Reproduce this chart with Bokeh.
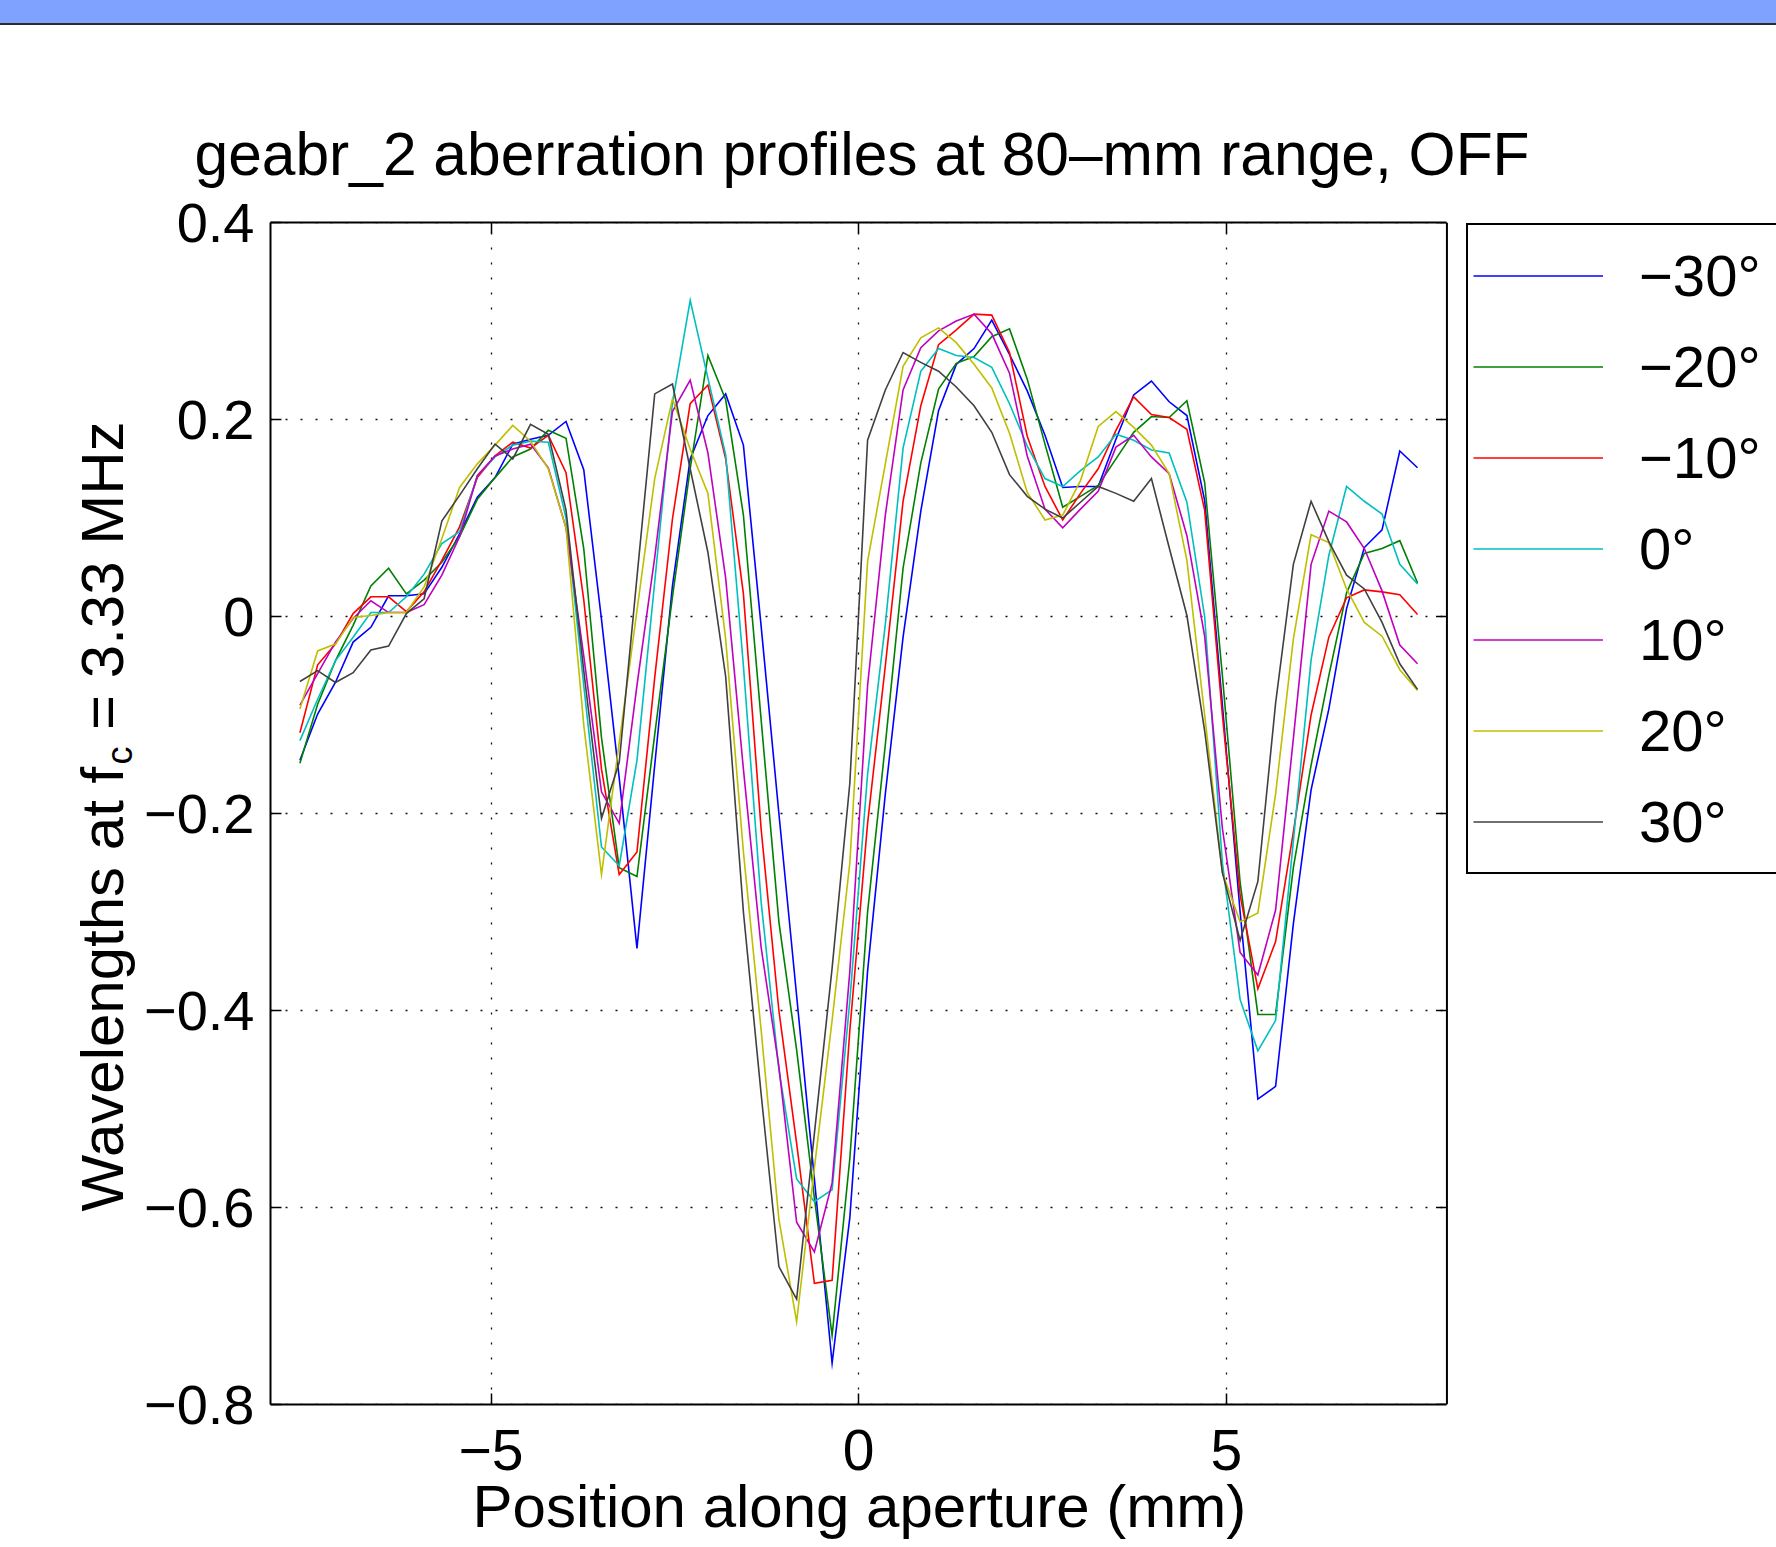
import numpy as np
from bokeh.plotting import figure
from bokeh.models import Range1d, FixedTicker, LinearAxis, Div, Legend, LegendItem, Title
from bokeh.layouts import row, column
from bokeh.core.properties import value
from bokeh.embed import file_html
from bokeh.resources import INLINE

# ---------------- data ----------------
positions = np.linspace(-7.6, 7.6, 64)   # element positions along aperture (mm)

angle_labels = ["−30°", "−20°", "−10°", "0°", "10°", "20°", "30°"]

prof_m30 = [-0.146, -0.099, -0.067, -0.026, -0.011, 0.021, 0.021, 0.023, 0.050, 0.084,
            0.121, 0.141, 0.175, 0.180, 0.184, 0.198, 0.149, -0.003, -0.164, -0.337,
            -0.151, 0.031, 0.160, 0.204, 0.226, 0.174, -0.010, -0.200, -0.385, -0.571,
            -0.758, -0.610, -0.360, -0.180, -0.021, 0.107, 0.209, 0.256, 0.272, 0.301,
            0.266, 0.229, 0.184, 0.131, 0.132, 0.132, 0.180, 0.225, 0.239, 0.218,
            0.204, 0.118, -0.090, -0.300, -0.490, -0.477, -0.312, -0.176, -0.094, 0.008,
            0.070, 0.088, 0.168, 0.151]
prof_m20 = [-0.149, -0.089, -0.045, -0.009, 0.031, 0.049, 0.023, 0.037, 0.055, 0.081,
            0.119, 0.141, 0.162, 0.170, 0.189, 0.181, 0.069, -0.123, -0.255, -0.264,
            -0.120, 0.020, 0.150, 0.265, 0.220, 0.103, -0.105, -0.310, -0.440, -0.590,
            -0.730, -0.550, -0.300, -0.130, 0.049, 0.156, 0.231, 0.257, 0.264, 0.284,
            0.292, 0.241, 0.175, 0.111, 0.122, 0.133, 0.160, 0.187, 0.203, 0.202,
            0.219, 0.136, -0.060, -0.270, -0.404, -0.404, -0.255, -0.151, -0.060, 0.024,
            0.064, 0.069, 0.077, 0.034]
prof_m10 = [-0.118, -0.049, -0.028, 0.003, 0.020, 0.020, 0.005, 0.025, 0.057, 0.091,
            0.141, 0.163, 0.177, 0.171, 0.184, 0.146, 0.017, -0.155, -0.262, -0.239,
            -0.062, 0.099, 0.216, 0.235, 0.160, 0.023, -0.216, -0.400, -0.535, -0.677,
            -0.674, -0.420, -0.210, -0.050, 0.117, 0.214, 0.276, 0.291, 0.307, 0.306,
            0.268, 0.183, 0.132, 0.098, 0.125, 0.150, 0.189, 0.223, 0.205, 0.202,
            0.190, 0.108, -0.100, -0.283, -0.378, -0.330, -0.219, -0.100, -0.021, 0.019,
            0.027, 0.025, 0.022, 0.002]
prof_0 = [-0.126, -0.084, -0.045, -0.021, 0.004, 0.004, 0.020, 0.043, 0.074, 0.086,
          0.143, 0.162, 0.174, 0.178, 0.177, 0.100, -0.070, -0.234, -0.253, -0.146,
          0.035, 0.217, 0.321, 0.242, 0.164, -0.050, -0.290, -0.460, -0.571, -0.594,
          -0.582, -0.390, -0.160, -0.008, 0.171, 0.249, 0.272, 0.265, 0.263, 0.253,
          0.216, 0.173, 0.140, 0.132, 0.148, 0.162, 0.185, 0.179, 0.169, 0.166,
          0.116, 0.000, -0.250, -0.389, -0.441, -0.410, -0.228, -0.044, 0.062, 0.132,
          0.117, 0.104, 0.053, 0.033]
prof_p10 = [-0.090, -0.058, -0.026, -0.002, 0.016, 0.004, 0.004, 0.012, 0.042, 0.081,
            0.143, 0.163, 0.170, 0.175, 0.151, 0.090, -0.040, -0.178, -0.210, -0.070,
            0.060, 0.208, 0.240, 0.166, 0.039, -0.155, -0.336, -0.457, -0.615, -0.645,
            -0.575, -0.360, -0.070, 0.103, 0.230, 0.273, 0.290, 0.300, 0.307, 0.287,
            0.247, 0.163, 0.109, 0.090, 0.109, 0.127, 0.172, 0.184, 0.162, 0.145,
            0.082, -0.020, -0.215, -0.341, -0.364, -0.298, -0.124, 0.053, 0.107, 0.096,
            0.069, 0.026, -0.029, -0.048]
prof_p20 = [-0.094, -0.035, -0.028, -0.001, 0.001, 0.004, 0.004, 0.030, 0.079, 0.131,
            0.155, 0.174, 0.194, 0.178, 0.150, 0.090, -0.110, -0.262, -0.128, 0.006,
            0.140, 0.221, 0.170, 0.125, -0.023, -0.239, -0.420, -0.612, -0.716, -0.560,
            -0.410, -0.250, 0.056, 0.155, 0.254, 0.283, 0.293, 0.278, 0.256, 0.232,
            0.186, 0.126, 0.098, 0.103, 0.138, 0.193, 0.208, 0.192, 0.174, 0.145,
            0.057, -0.100, -0.260, -0.310, -0.301, -0.180, -0.023, 0.083, 0.075, 0.028,
            -0.006, -0.020, -0.054, -0.075]
prof_p30 = [-0.066, -0.055, -0.067, -0.057, -0.034, -0.030, 0.003, 0.018, 0.097, 0.123,
            0.150, 0.175, 0.160, 0.195, 0.185, 0.108, -0.055, -0.205, -0.148, 0.040,
            0.226, 0.236, 0.150, 0.065, -0.061, -0.300, -0.485, -0.660, -0.693, -0.525,
            -0.357, -0.169, 0.179, 0.230, 0.268, 0.258, 0.249, 0.233, 0.214, 0.187,
            0.144, 0.122, 0.109, 0.100, 0.116, 0.132, 0.125, 0.117, 0.140, 0.070,
            0.001, -0.116, -0.260, -0.329, -0.269, -0.088, 0.053, 0.117, 0.076, 0.042,
            0.028, -0.006, -0.048, -0.074]

profiles = [prof_m30, prof_m20, prof_m10, prof_0, prof_p10, prof_p20, prof_p30]

x_ticks = [-5, 0, 5]
x_tick_labels = ["−5", "0", "5"]
y_ticks = [-0.8, -0.6, -0.4, -0.2, 0.0, 0.2, 0.4]
y_tick_labels = ["−0.8", "−0.6", "−0.4", "−0.2", "0", "0.2", "0.4"]

TITLE = "geabr_2 aberration profiles at 80–mm range, OFF"
XLABEL = "Position along aperture (mm)"
YLABEL_A = "Wavelengths at f"
YLABEL_SUB = "c"
YLABEL_B = "= 3.33 MHz"

# ---------------- styles / layout ----------------
colors = ["#0000ff", "#008000", "#ff0000", "#00bfbf", "#bf00bf", "#bfbf00", "#404040"]
FONT = "Liberation Sans"
PAGE_W, PAGE_H = 1776, 1547
BAR_H = 25
FIG_H = PAGE_H - BAR_H
YL_W = 140                      # width of the y-label strip
MAIN_W = PAGE_W - YL_W
FRAME_L, FRAME_R, FRAME_T, FRAME_B = 268, 1446, 222, 1404   # axes box, page pixels
BORDER_T = FRAME_T - BAR_H
BORDER_B = PAGE_H - FRAME_B
X_LO, X_HI = -8, 8              # axes box limits
Y_LO, Y_HI = -0.8, 0.4
PX_PER_X = (FRAME_R - FRAME_L) / (X_HI - X_LO)
X_VIEW_HI = X_HI + (PAGE_W - FRAME_R) / PX_PER_X   # drawing area runs on under the legend
TICK_LEN = 11
AX_CENTER = (FRAME_L + FRAME_R) / 2

# ---------------- main plot ----------------
p = figure(width=MAIN_W, height=FIG_H, x_range=Range1d(X_LO, X_VIEW_HI), y_range=Range1d(Y_LO, Y_HI),
           output_backend="svg", toolbar_location=None,
           min_border_left=FRAME_L - YL_W, min_border_right=0,
           min_border_top=BORDER_T, min_border_bottom=BORDER_B)
p.background_fill_color = "white"
p.border_fill_color = "white"
p.outline_line_color = None

TITLE_LEFT = 192                # page x where the title text starts
p.title = Title(text=TITLE, text_font=FONT, text_font_size="60.5px", text_font_style="normal",
                text_color="black", align="left", offset=TITLE_LEFT - FRAME_L,
                standoff=70)

for ax in (p.xaxis[0], p.yaxis[0]):
    ax.major_label_text_font = FONT
    ax.major_label_text_color = "black"
    ax.major_tick_in = TICK_LEN
    ax.major_tick_out = 0
    ax.major_tick_line_width = 1.5
    ax.minor_tick_line_color = None
    ax.axis_line_width = 2

p.xaxis.bounds = (X_LO, X_HI)
p.xaxis.major_label_text_font_size = "57px"
p.xaxis.ticker = FixedTicker(ticks=x_ticks)
p.xaxis.major_label_overrides = dict(zip(x_ticks, x_tick_labels))
p.xaxis.major_label_standoff = 25
p.xaxis.axis_label = None

xlabel_w = 774
p.add_layout(Title(text=XLABEL, text_font=FONT, text_font_size="60px", text_font_style="normal",
                   text_color="black", align="left", vertical_align="top", standoff=0,
                   offset=AX_CENTER - xlabel_w / 2 - FRAME_L), "below")

p.yaxis.major_label_text_font_size = "56px"
p.yaxis.ticker = FixedTicker(ticks=y_ticks)
p.yaxis.major_label_overrides = dict(zip(y_ticks, y_tick_labels))
p.yaxis.major_label_standoff = 16
p.yaxis.axis_label = None

# top edge of the box with inward ticks
top_ax = LinearAxis(ticker=FixedTicker(ticks=x_ticks), bounds=(X_LO, X_HI),
                    major_tick_in=TICK_LEN, major_tick_out=0,
                    major_tick_line_width=1.5, minor_tick_line_color=None, axis_line_width=2,
                    major_label_text_font_size="1px", major_label_standoff=0,
                    major_label_overrides={t: "" for t in x_ticks})
p.add_layout(top_ax, "above")

# grid: vertical lines from the x ticks, horizontal lines limited to the axes box
p.xgrid.ticker = FixedTicker(ticks=x_ticks)
p.xgrid.grid_line_color = "#111111"
p.xgrid.grid_line_width = 1.3
p.xgrid.grid_line_dash = "2 13"
p.ygrid.visible = False
p.segment(x0=[X_LO] * len(y_ticks), x1=[X_HI] * len(y_ticks), y0=y_ticks, y1=y_ticks,
          line_color="#111111", line_width=1.3, line_dash="2 13")

# right edge of the box and its inward ticks
p.segment(x0=[X_HI], x1=[X_HI], y0=[Y_LO], y1=[Y_HI], line_color="black", line_width=2)
p.segment(x0=[X_HI - TICK_LEN / PX_PER_X] * len(y_ticks), x1=[X_HI] * len(y_ticks),
          y0=y_ticks, y1=y_ticks, line_color="black", line_width=1.5)

renderers = []
for prof, col in zip(profiles, colors):
    renderers.append(p.line(positions, prof, line_color=col, line_width=1.6, line_join="miter"))

# legend box to the right of the axes (box runs off the right edge of the page)
LEG_L, LEG_BOTTOM = 1464, 874
LEG_PAD, LEG_ROW = 5, 91
legend = Legend(items=[LegendItem(label=lab, renderers=[r]) for lab, r in zip(angle_labels, renderers)],
                location=(LEG_L - FRAME_L, FRAME_B - LEG_BOTTOM),
                border_line_color="black", border_line_width=2, border_line_alpha=1,
                background_fill_color="white", background_fill_alpha=1,
                padding=LEG_PAD, spacing=0, margin=0,
                glyph_width=130, glyph_height=LEG_ROW, label_height=LEG_ROW, label_width=200,
                label_standoff=36, label_text_font=FONT, label_text_font_size="58px",
                label_text_color="black", label_text_baseline="middle")
p.add_layout(legend)

# ---------------- y label strip ----------------
py = figure(width=YL_W, height=FIG_H, x_range=Range1d(0, YL_W),
            y_range=Range1d(PAGE_H - FRAME_B, PAGE_H - FRAME_T),
            output_backend="svg", toolbar_location=None, title=None,
            min_border_left=0, min_border_right=0,
            min_border_top=BORDER_T, min_border_bottom=BORDER_B,
            x_axis_location=None, y_axis_location=None)
py.grid.visible = False
py.outline_line_color = None
py.background_fill_color = "white"
py.border_fill_color = "white"

lab_size = 60
sub_size = 36
base_x = 124 - 22               # rendered baseline lands ~22 px right of the anchor
sub_x = 132 - 13
start_y = PAGE_H - 1211         # page y of the label start -> data coords (y up)
w_a = 7.448 * lab_size
w_c = 0.5 * sub_size
w_space = 0.278 * lab_size
py.text(x=[base_x], y=[start_y], text=[YLABEL_A], angle=np.pi / 2,
        text_font=value(FONT), text_font_size=value(f"{lab_size}px"),
        text_align="left", text_baseline="alphabetic", text_color="black")
py.text(x=[sub_x], y=[start_y + w_a], text=[YLABEL_SUB], angle=np.pi / 2,
        text_font=value(FONT), text_font_size=value(f"{sub_size}px"),
        text_align="left", text_baseline="alphabetic", text_color="black")
py.text(x=[base_x], y=[start_y + w_a + w_c + w_space], text=[YLABEL_B], angle=np.pi / 2,
        text_font=value(FONT), text_font_size=value(f"{lab_size}px"),
        text_align="left", text_baseline="alphabetic", text_color="black")

# ---------------- page ----------------
bar = Div(text="", width=PAGE_W, height=BAR_H, margin=0,
          styles={"background-color": "#7fa1ff", "border-bottom": "2px solid #2b2b2b",
                  "box-sizing": "border-box"})
page = column(bar, row(py, p, spacing=0), spacing=0)

open("out.html", "w").write(file_html(page, INLINE))
